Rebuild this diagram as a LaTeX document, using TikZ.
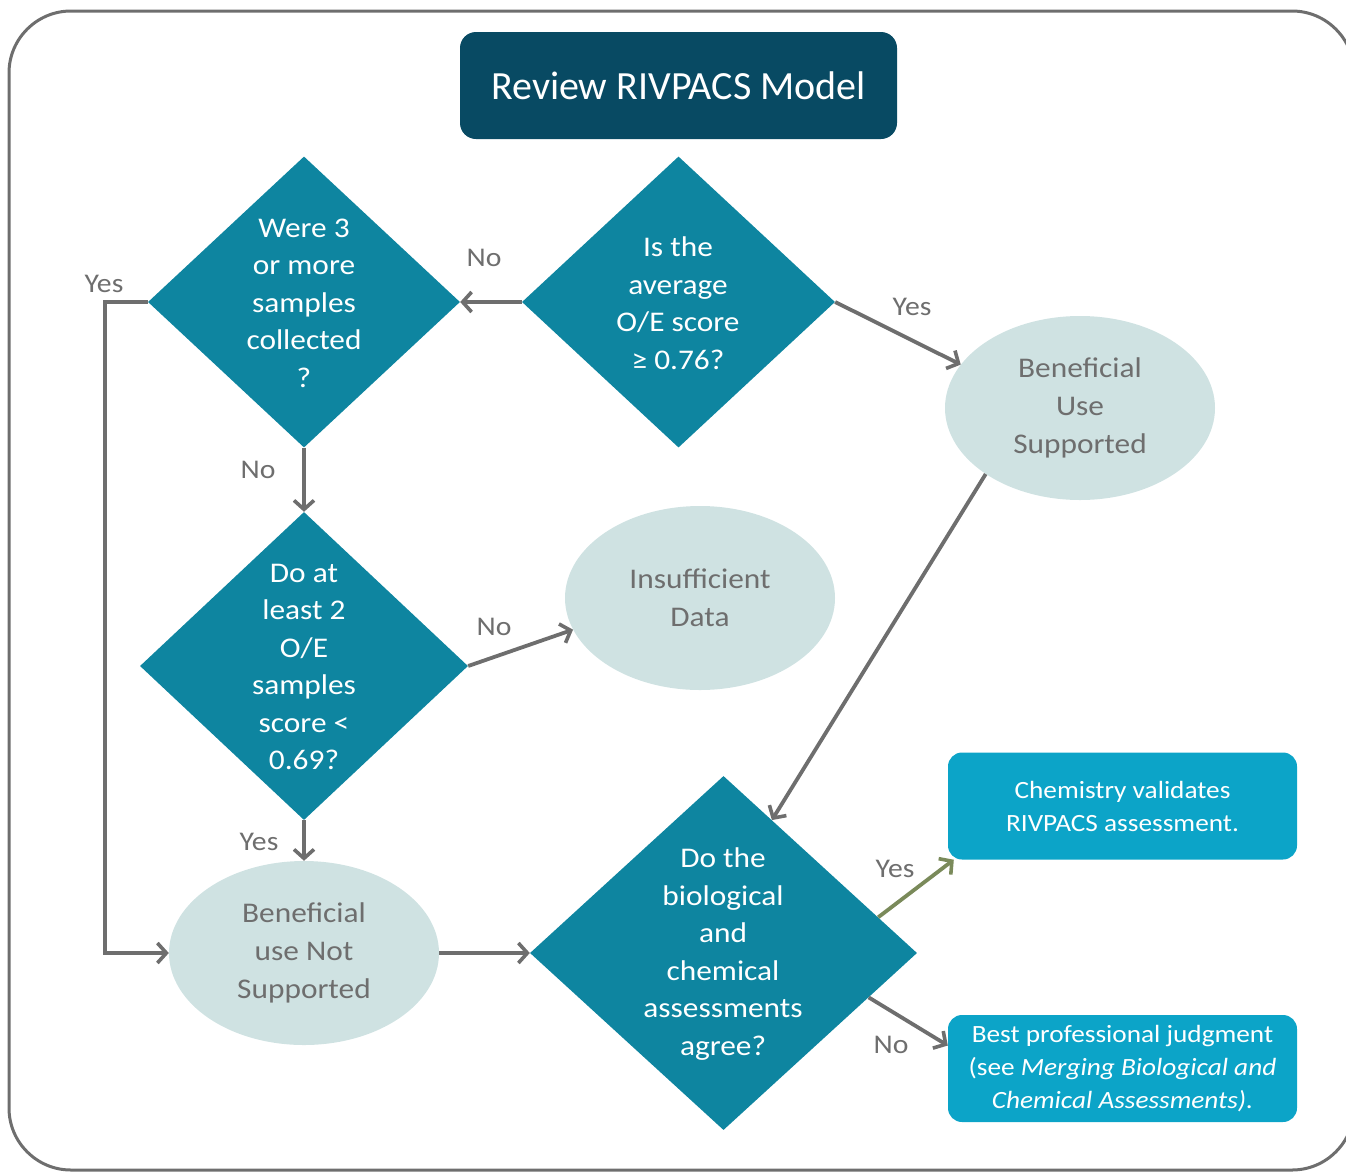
\documentclass[tikz,border=0pt]{standalone}
\usepackage{fontspec}
\setmainfont{Carlito}[FakeStretch=1.1]
\newfontfamily\titlefont{Carlito}
\usetikzlibrary{shapes.geometric,arrows.meta}
\definecolor{diac}{RGB}{14,133,160}
\definecolor{titlec}{RGB}{8,74,99}
\definecolor{ellc}{RGB}{207,226,226}
\definecolor{boxc}{RGB}{12,164,200}
\definecolor{grayc}{RGB}{110,110,110}
\definecolor{olivec}{RGB}{122,138,90}
\begin{document}
\begin{tikzpicture}[x=1pt,y=-1pt,
  dia/.style={diamond, fill=diac, draw=none, inner sep=0pt},
  diatext/.style={text=white, align=center, font=\fontsize{28.5}{37.5}\selectfont, inner sep=0pt},
  ell/.style={ellipse, fill=ellc, draw=none, inner sep=0pt, minimum width=270pt, minimum height=184pt,
    text=grayc, align=center, font=\fontsize{28.5}{38}\selectfont},
  rbox/.style={rectangle, rounded corners=14pt, fill=boxc, draw=none, minimum width=349pt, minimum height=107pt,
    text=white, align=center, font=\fontsize{24.8}{33}\selectfont, inner sep=0pt},
  lbl/.style={text=grayc, font=\fontsize{27}{30}\selectfont, inner sep=0pt},
  conn/.style={draw=grayc, line width=3.8pt, -{Straight Barb[length=9pt,width=20pt,line width=3.6pt]}},
  frame/.style={draw=grayc, line width=3pt}
]
\useasboundingbox (0,0) rectangle (1346,1173);
\begin{scope}
  \clip (0,0) rectangle (1346,1173);
  \draw[frame, rounded corners=62pt] (9,11) rectangle (1354,1170);
\end{scope}

% title
\node[rectangle, rounded corners=16pt, fill=titlec, minimum width=437pt, minimum height=107pt, inner sep=0pt,
  text=white, font=\titlefont\fontsize{40}{46}\selectfont] (title) at (678.5,85.5) {Review RIVPACS Model};

% diamonds
\node[dia, minimum width=312pt, minimum height=291pt] (d1) at (304,302) {};
\node[diatext] (t1) at (304,303) {Were 3\\or more\\samples\\collected\\?};
\node[dia, minimum width=313pt, minimum height=291pt] (d2) at (678.5,302) {};
\node[diatext] (t2) at (678,303) {Is the\\average\\O/E score\\≥ 0.76?};
\node[dia, minimum width=328pt, minimum height=308pt] (d3) at (304,666) {};
\node[diatext] (t3) at (304,667) {Do at\\least 2\\O/E\\samples\\score <\\0.69?};
\node[dia, minimum width=387pt, minimum height=354pt] (d4) at (723.5,953) {};
\node[diatext] (t4) at (723,954) {Do the\\biological\\and\\chemical\\assessments\\agree?};

% ellipses
\node[ell] (bus) at (1080,408) {Beneficial\\Use\\Supported};
\node[ell] (ins) at (700,598) {Insufficient\\Data};
\node[ell] (bns) at (304,953) {Beneficial\\use Not\\Supported};

% right boxes
\node[rbox] (chem) at (1122.5,806) {Chemistry validates\\RIVPACS assessment.};
\node[rbox] (best) at (1122.5,1068.5) {Best professional judgment\\(see \textit{Merging Biological and}\\\textit{Chemical Assessments).}};

% connectors
\coordinate (yc) at (105,302);
\draw[conn] (d2.west) -- (d1.east);
\draw[conn] (d2.east) -- (bus.160);
\draw[conn] (d1.south) -- (d3.north);
\draw[conn] (d3.east) -- (ins.194);
\draw[conn] (d3.south) -- (bns.north);
\draw[conn] (d1.west) -- (yc) |- (bns.west);
\draw[conn] (bns.east) -- (d4.west);
\draw[conn] (bus.215) -- (d4.70.5);
\draw[conn, draw=olivec] (d4.13.9) -- ([xshift=6pt]chem.south west);
\draw[conn] (d4.-17.5) -- ([yshift=23pt]best.west);

% labels
\node[lbl] (l1) at (484,258) {No};
\node[lbl] (l2) at (104,284) {Yes};
\node[lbl] (l3) at (912,307) {Yes};
\node[lbl] (l4) at (258,470) {No};
\node[lbl] (l5) at (494,627) {No};
\node[lbl] (l6) at (259,842) {Yes};
\node[lbl] (l7) at (895,869) {Yes};
\node[lbl] (l8) at (891,1045) {No};
\end{tikzpicture}
\end{document}
